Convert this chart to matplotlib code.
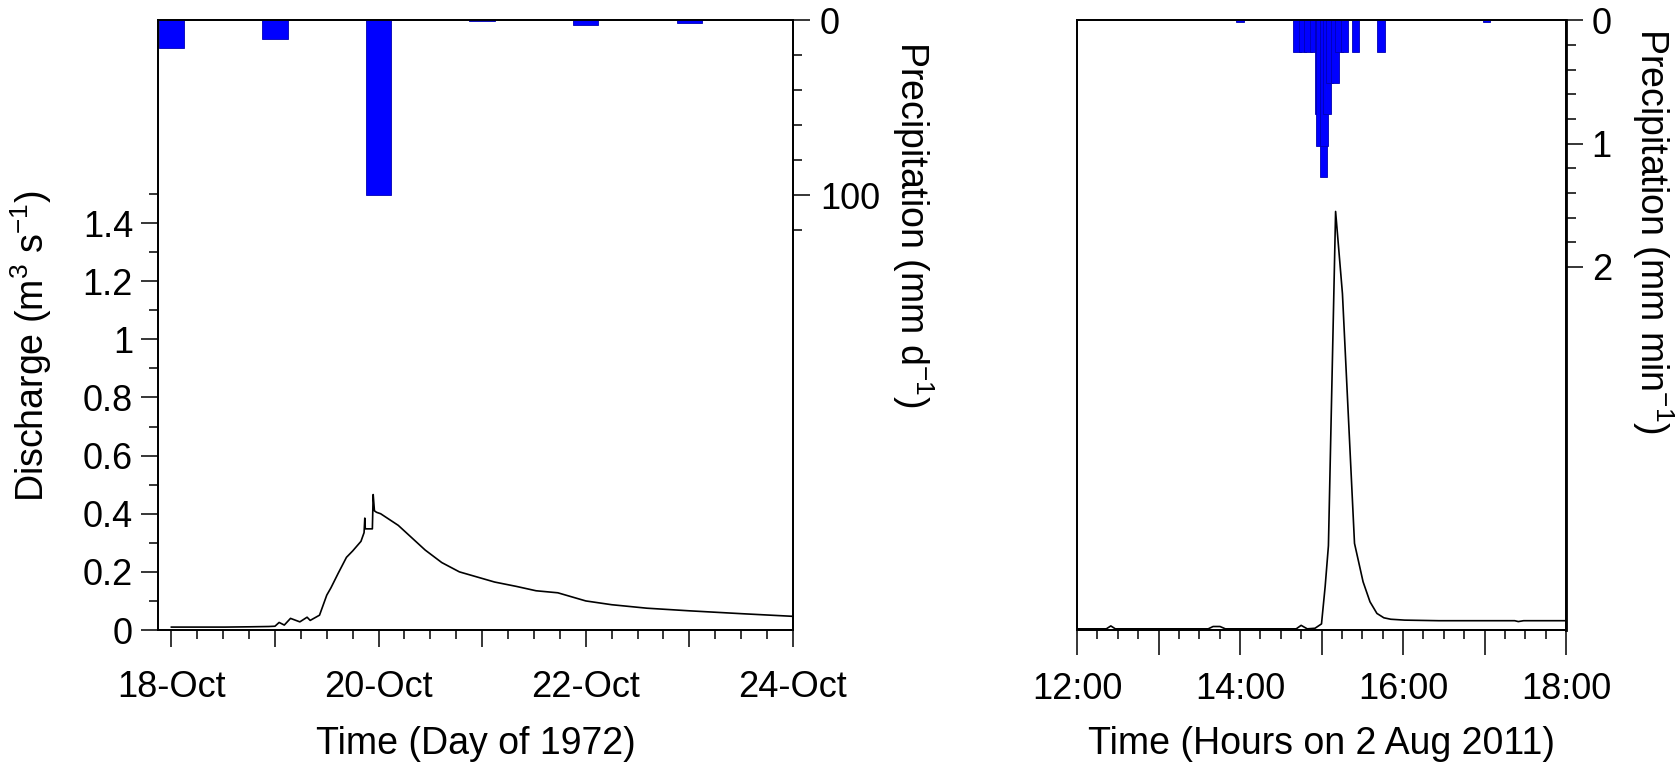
import matplotlib
matplotlib.use('Agg')
import matplotlib.pyplot as plt
from matplotlib.ticker import FixedLocator

# ---- left panel: daily data, Oct 1972 (x = day of month)
q72_day = [18.0, 18.52, 18.76, 18.94, 19.0, 19.04, 19.09, 19.15, 19.24, 19.31, 19.34,
           19.43, 19.50, 19.54, 19.61, 19.69, 19.75, 19.83, 19.86, 19.867, 19.872,
           19.94, 19.948, 19.96, 19.98, 20.02, 20.19, 20.45, 20.61, 20.78, 21.12,
           21.33, 21.52, 21.73, 22.0, 22.25, 22.59, 23.0, 23.51, 24.0]
q72 = [0.010, 0.010, 0.011, 0.012, 0.013, 0.026, 0.017, 0.040, 0.028, 0.044, 0.033,
       0.051, 0.12, 0.145, 0.195, 0.25, 0.272, 0.305, 0.335, 0.385, 0.348,
       0.348, 0.466, 0.41, 0.405, 0.40, 0.36, 0.275, 0.232, 0.20, 0.165,
       0.15, 0.135, 0.128, 0.10, 0.087, 0.075, 0.066, 0.056, 0.047]
p72_day = [18, 19, 20, 21, 22, 23]
p72 = [16.0, 10.5, 100.0, 0.4, 2.3, 1.3]
day_ticks = [18, 19, 20, 21, 22, 23, 24]
day_labels = ["18-Oct", "", "20-Oct", "", "22-Oct", "", "24-Oct"]

# ---- right panel: 2 Aug 2011 (x = hour of day)
q11_hour = [12.0, 12.36, 12.415, 12.47, 13.61, 13.67, 13.755, 13.82, 14.69, 14.75,
            14.825, 14.92, 15.0, 15.045, 15.085, 15.173, 15.257, 15.405, 15.51,
            15.595, 15.68, 15.765, 15.85, 16.02, 16.44, 16.865, 17.37, 17.415,
            17.48, 18.0]
q11 = [0.004, 0.004, 0.014, 0.004, 0.004, 0.012, 0.012, 0.004, 0.004, 0.016,
       0.004, 0.006, 0.021, 0.15, 0.29, 1.44, 1.157, 0.298, 0.166,
       0.097, 0.057, 0.042, 0.037, 0.034, 0.032, 0.032, 0.032, 0.029,
       0.032, 0.032]
p11_min = [120, 162, 166, 170, 174, 178, 179, 181.5, 182, 184, 186, 190, 193, 197, 205, 224, 301.5]
p11 = [0.01, 0.254, 0.254, 0.254, 0.254, 0.762, 1.016, 1.27, 1.016, 0.762, 0.508,
       0.508, 0.254, 0.254, 0.254, 0.254, 0.01]
hour_ticks = [12, 13, 14, 15, 16, 17, 18]
hour_labels = ["12:00", "", "14:00", "", "16:00", "", "18:00"]

plt.rcParams['font.family'] = ['Liberation Sans', 'DejaVu Sans']
plt.rcParams['mathtext.default'] = 'regular'
plt.rcParams['font.size'] = 26
plt.rcParams['axes.labelsize'] = 27
plt.rcParams['axes.linewidth'] = 1.3

W, H = 1675, 775
fig = plt.figure(figsize=(W / 100, H / 100), dpi=100)
ax1 = fig.add_axes([158 / W, 1 - 630 / H, 635 / W, 609.5 / H])
ax2 = fig.add_axes([1077 / W, 1 - 630 / H, 489 / W, 609.5 / H])
ax1p = ax1.twinx()
ax2p = ax2.twinx()

bar_kw = dict(color='#0000ff', edgecolor='#0000b4', linewidth=0.6)

# left panel
ax1.plot(q72_day, q72, color='black', lw=1.2)
ax1.set_xlim(17.871, 24.0)
ax1.set_ylim(0, 2.097)
ax1.xaxis.set_major_locator(FixedLocator(day_ticks))
ax1.set_xticklabels(day_labels)
ax1.xaxis.set_minor_locator(FixedLocator([18 + i * 0.25 for i in range(25)]))
ax1.set_yticks([0, 0.2, 0.4, 0.6, 0.8, 1.0, 1.2, 1.4])
ax1.set_yticklabels(["0", "0.2", "0.4", "0.6", "0.8", "1", "1.2", "1.4"])
ax1.yaxis.set_minor_locator(FixedLocator([0.1, 0.3, 0.5, 0.7, 0.9, 1.1, 1.3, 1.5]))
ax1.tick_params(which='major', direction='out', length=12, width=1.1)
ax1.tick_params(which='minor', direction='out', length=6.5, width=1.1)
ax1.tick_params(axis='x', which='major', pad=17)
ax1.tick_params(axis='y', which='major', pad=6)
ax1.set_xlabel("Time (Day of 1972)")
ax1.xaxis.set_label_coords(0.5, -0.158)
ax1.set_ylabel("Discharge (m$^3$ s$^{-1}$)")
ax1.yaxis.set_label_coords(-0.163, 0.466)

ax1p.bar(p72_day, p72, width=0.245, **bar_kw)
ax1p.set_ylim(349, 0)
ax1p.set_yticks([0, 100])
ax1p.yaxis.set_minor_locator(FixedLocator([20, 40, 60, 80, 120]))
ax1p.tick_params(which='major', direction='out', length=12.5, width=1.1, pad=7)
ax1p.tick_params(which='minor', direction='out', length=6.5, width=1.1)
ax1p.set_ylabel("Precipitation (mm d$^{-1}$)", rotation=270, va='bottom')
ax1p.yaxis.set_label_coords(1.153, 0.665)

# right panel
ax2.plot(q11_hour, q11, color='black', lw=1.2)
ax2.set_xlim(12, 18)
ax2.set_ylim(0, 2.097)
ax2.xaxis.set_major_locator(FixedLocator(hour_ticks))
ax2.set_xticklabels(hour_labels)
ax2.xaxis.set_minor_locator(FixedLocator([12 + i * 0.25 for i in range(25)]))
ax2.tick_params(axis='x', which='major', direction='out', length=18, width=1.1, pad=12)
ax2.tick_params(axis='x', which='minor', direction='out', length=6.5, width=1.1)
ax2.tick_params(axis='y', which='both', left=False, labelleft=False)
ax2.set_xlabel("Time (Hours on 2 Aug 2011)")
ax2.xaxis.set_label_coords(0.5, -0.158)

ax2p.bar([12 + m / 60 for m in p11_min], p11, width=5.6 / 60, **bar_kw)
ax2p.set_ylim(4.95, 0)
ax2p.set_yticks([0, 1, 2])
ax2p.yaxis.set_minor_locator(FixedLocator([0.2, 0.4, 0.6, 0.8, 1.2, 1.4, 1.6, 1.8]))
ax2p.tick_params(which='major', direction='out', length=12.5, width=1.1, pad=6)
ax2p.tick_params(which='minor', direction='out', length=7, width=1.1)
ax2p.spines['right'].set_linewidth(2)
ax2p.set_ylabel("Precipitation (mm min$^{-1}$)", rotation=270, va='bottom')
ax2p.yaxis.set_label_coords(1.13, 0.655)

fig.savefig('out.png', dpi=100)
